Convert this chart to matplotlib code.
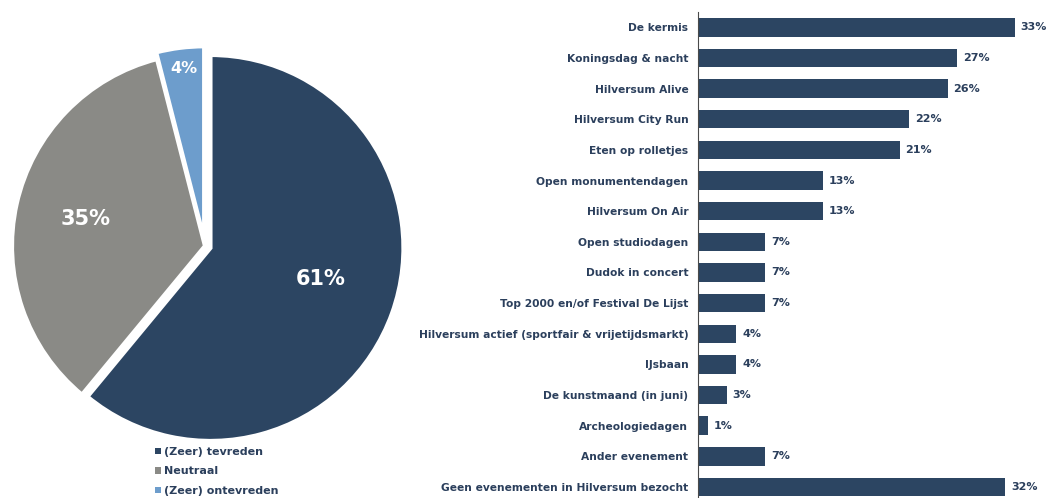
import matplotlib
matplotlib.use('Agg')
import matplotlib.pyplot as plt
from matplotlib.patches import Patch

# tevredenheid (taartdiagram)
pie_labels = ['(Zeer) tevreden', 'Neutraal', '(Zeer) ontevreden']
pie_values = [61, 35, 4]
pie_colors = ['#2c4562', '#8a8a86', '#6d9dcc']

# bezochte evenementen (staafdiagram)
events = ['De kermis', 'Koningsdag & nacht', 'Hilversum Alive', 'Hilversum City Run',
          'Eten op rolletjes', 'Open monumentendagen', 'Hilversum On Air',
          'Open studiodagen', 'Dudok in concert', 'Top 2000 en/of Festival De Lijst',
          'Hilversum actief (sportfair & vrijetijdsmarkt)', 'IJsbaan',
          'De kunstmaand (in juni)', 'Archeologiedagen', 'Ander evenement',
          'Geen evenementen in Hilversum bezocht']
event_pct = [33, 27, 26, 22, 21, 13, 13, 7, 7, 7, 4, 4, 3, 1, 7, 32]

navy = '#2c4562'
text_col = '#2b3f5c'
plt.rcParams['font.family'] = 'DejaVu Sans'

W, H = 1051, 498
fig = plt.figure(figsize=(W / 100, H / 100), dpi=100)

# taart: middelpunt (205, 246) px, straal 193 px
cx, cy, r = 205, 246, 193
lim = 1.15
ax1 = fig.add_axes([(cx - r * lim) / W, (H - cy - r * lim) / H, 2 * r * lim / W, 2 * r * lim / H])
wedges, _ = ax1.pie(pie_values, colors=pie_colors, startangle=90, counterclock=False,
                    explode=[0.03, 0, 0.035], radius=1,
                    wedgeprops=dict(edgecolor='white', linewidth=3))
ax1.set_xlim(-lim, lim)
ax1.set_ylim(-lim, lim)
ax1.set_aspect('equal')
ax1.axis('off')

label_pos = [(0.6, -0.17), (-0.62, 0.14), (-0.11, 0.92)]
label_size = [15, 15, 11.5]
for (x, y), v, s in zip(label_pos, pie_values, label_size):
    ax1.text(x, y, f'{v}%', color='white', fontsize=s, fontweight='bold',
             ha='center', va='center')

handles = [Patch(facecolor=c, edgecolor='none') for c in pie_colors]
fig.legend(handles, pie_labels, loc='upper left', bbox_to_anchor=(155 / W, 1 - 447 / H),
           frameon=False, handlelength=0.55, handleheight=0.55, handletextpad=0.25,
           labelspacing=0.85, borderpad=0, borderaxespad=0,
           prop=dict(size=8, weight='bold'), labelcolor=text_col)

# staven
ax2 = fig.add_axes([698 / W, 0, (W - 698) / W, 1 - 12 / H])
y = list(range(len(events)))
ax2.barh(y, event_pct, height=0.6, color=navy)
ax2.set_ylim(15.36, -0.5)
ax2.set_xlim(0, 36.75)
ax2.set_yticks(y)
ax2.set_yticklabels(events, fontsize=7.7, fontweight='bold', color=text_col)
ax2.tick_params(axis='y', length=0, pad=7)
ax2.set_xticks([])
for side in ['top', 'right', 'bottom']:
    ax2.spines[side].set_visible(False)
ax2.spines['left'].set_color('#4a4a4a')
ax2.spines['left'].set_linewidth(0.8)
for i, v in enumerate(event_pct):
    ax2.text(v + 0.6, i, f'{v}%', va='center', ha='left', fontsize=8,
             fontweight='bold', color=text_col)

fig.savefig('out.png', dpi=100)
